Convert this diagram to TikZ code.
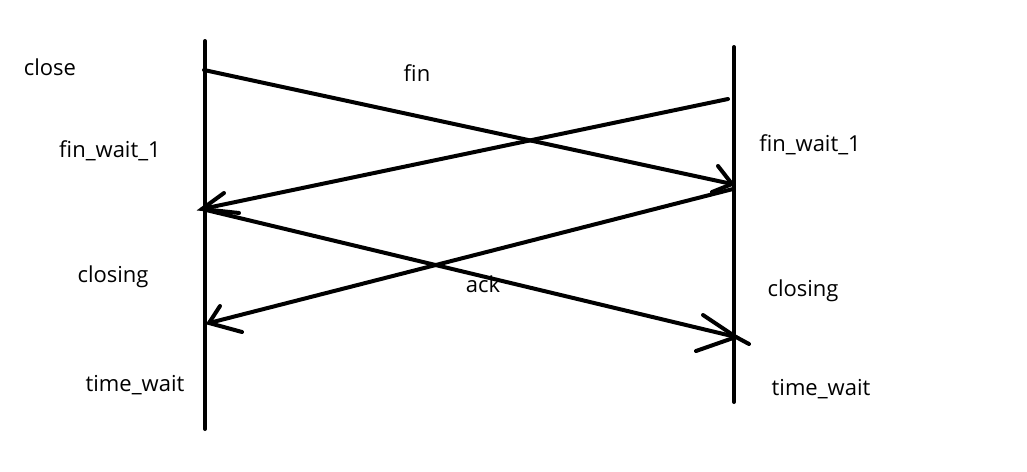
\documentclass[tikz,border=0pt]{standalone}
\usepackage{fontspec}
\setmainfont{Open Sans}
\begin{document}
\begin{tikzpicture}[x=1pt,y=-1pt,
  ln/.style={line width=4pt,line cap=round,black},
  lbl/.style={font=\fontsize{22}{26}\selectfont,inner sep=0pt,anchor=base}]
\useasboundingbox[fill=white] (0,0) rectangle (1027,471);
% lifelines
\coordinate (LT) at (205,41); \coordinate (LB) at (205,429);
\coordinate (RT) at (734,47); \coordinate (RB) at (734,402);
\draw[ln] (LT) -- (LB);
\draw[ln] (RT) -- (RB);
% fin (left -> right)
\coordinate (f1s) at (204,70); \coordinate (f1e) at (732,184);
\coordinate (f1a) at (718,166); \coordinate (f1b) at (712,192);
\draw[ln] (f1s) -- (f1e);
\draw[ln] (f1a) -- (f1e) -- (f1b);
% right -> left (upper)
\coordinate (f2s) at (728,99); \coordinate (f2e) at (202,209);
\coordinate (f2a) at (224,193); \coordinate (f2b) at (239,213);
\draw[ln] (f2s) -- (f2e);
\draw[ln] (f2a) -- (f2e) -- (f2b);
% ack (left -> right)
\coordinate (a1s) at (206,210); \coordinate (a1e) at (736,337);
\coordinate (a1x) at (749,344);
\coordinate (a1a) at (703,315); \coordinate (a1b) at (696,351);
\draw[ln] (a1s) -- (a1e) -- (a1x);
\draw[ln] (a1a) -- (a1e) -- (a1b);
% right -> left (lower)
\coordinate (a2s) at (733,189); \coordinate (a2e) at (209,323);
\coordinate (a2a) at (220,306); \coordinate (a2b) at (242,332);
\draw[ln] (a2s) -- (a2e);
\draw[ln] (a2a) -- (a2e) -- (a2b);
% labels
\node[lbl] (close) at (50,75) {close};
\node[lbl] (fin) at (417,81) {fin};
\node[lbl] (fw1l) at (110,157) {fin\_wait\_1};
\node[lbl] (fw1r) at (810,151) {fin\_wait\_1};
\node[lbl] (cll) at (113,282) {closing};
\node[lbl] (ack) at (483,292) {ack};
\node[lbl] (clr) at (803,296) {closing};
\node[lbl] (twl) at (135,391) {time\_wait};
\node[lbl] (twr) at (821,395) {time\_wait};
\end{tikzpicture}
\end{document}
